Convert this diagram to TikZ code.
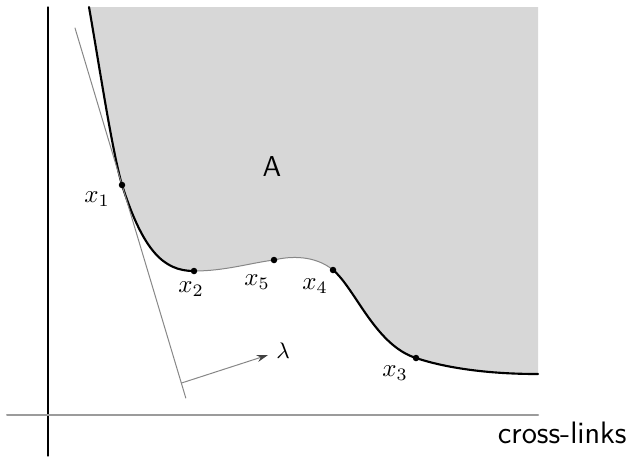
\documentclass[tikz,border=0pt]{standalone}
\usepackage{amsmath,amssymb}
\usepackage{tikz}
\usetikzlibrary{arrows.meta}
\definecolor{regiongray}{RGB}{215,215,215}
\definecolor{axisgray}{RGB}{155,155,155}
\definecolor{tangentgray}{RGB}{135,135,135}

\begin{document}
\begin{tikzpicture}[>=Stealth,line cap=round,x=0.4pt,y=-0.4pt,
 thickcurve/.style={line width=0.85pt,black},
 thincurve/.style={line width=0.4pt,tangentgray},
 ptdot/.style={circle,fill=black,inner sep=0pt,minimum size=2.6pt},
 ptlabel/.style={font=\normalsize,inner sep=0pt}]
 \useasboundingbox (0,0) rectangle (630,456);
 % axes
 \coordinate (vtop) at (48,7);
 \coordinate (vbot) at (48,456);
 \coordinate (hleft) at (7,415);
 \coordinate (hright) at (538,415);
 % points on the boundary
 \coordinate (top) at (89,7);
 \coordinate (p1) at (122,185);
 \coordinate (p2) at (194,271);
 \coordinate (p5) at (274,260);
 \coordinate (p4) at (333,270);
 \coordinate (p3) at (416,358);
 \coordinate (pend) at (538,374);
 \coordinate (corner) at (538,7);
 % region A
 \fill[regiongray] (top) .. controls (100,70) and (112,150) .. (p1)
   .. controls (143,250) and (163,271) .. (p2)
   .. controls (225,271) and (250,263) .. (p5)
   .. controls (290,256) and (315,255) .. (p4)
   .. controls (355,288) and (375,345) .. (p3)
   .. controls (440,366) and (480,374) .. (pend)
   -- (corner) -- cycle;
 \draw[thickcurve] (top) .. controls (100,70) and (112,150) .. (p1)
   .. controls (143,250) and (163,271) .. (p2);
 \draw[thincurve] (p2) .. controls (225,271) and (250,263) .. (p5)
   .. controls (290,256) and (315,255) .. (p4);
 \draw[thickcurve] (p4) .. controls (355,288) and (375,345) .. (p3)
   .. controls (440,366) and (480,374) .. (pend);
 \draw[black,line width=0.45pt] (vtop)--(vbot);
 \draw[axisgray,line width=0.8pt] (hleft)--(hright);
 % tangent at x_1 and direction
 \coordinate (tanA) at (75,28);
 \coordinate (tanB) at (185.8,398);
 \coordinate (lamfoot) at (181.5,383);
 \coordinate (lamtip) at (268,355);
 \draw[thincurve] (tanA)--(tanB);
 \draw[thincurve,-{Stealth[length=4.5pt,width=2.8pt,black!75]}] (lamfoot)--(lamtip);
 \node[ptlabel,font=\small] (lam) at (283,351) {$\lambda$};
 % marked points
 \node[ptdot] (x1) at (p1) {};
 \node[ptdot] (x2) at (p2) {};
 \node[ptdot] (x5) at (p5) {};
 \node[ptdot] (x4) at (p4) {};
 \node[ptdot] (x3) at (p3) {};
 \node[ptlabel] (lx1) at (97,199) {$x_1$};
 \node[ptlabel] (lx2) at (191,289) {$x_2$};
 \node[ptlabel] (lx5) at (257,282) {$x_5$};
 \node[ptlabel] (lx4) at (315,286) {$x_4$};
 \node[ptlabel] (lx3) at (395,373) {$x_3$};
 \node[font=\sffamily\fontsize{11.5}{14}\selectfont,inner sep=0pt] (regA) at (272,167) {A};
 \node[font=\sffamily\fontsize{12.4}{15}\selectfont,inner sep=0pt,anchor=base east] (xlab) at (627,443) {cross-links};
\end{tikzpicture}
\end{document}
